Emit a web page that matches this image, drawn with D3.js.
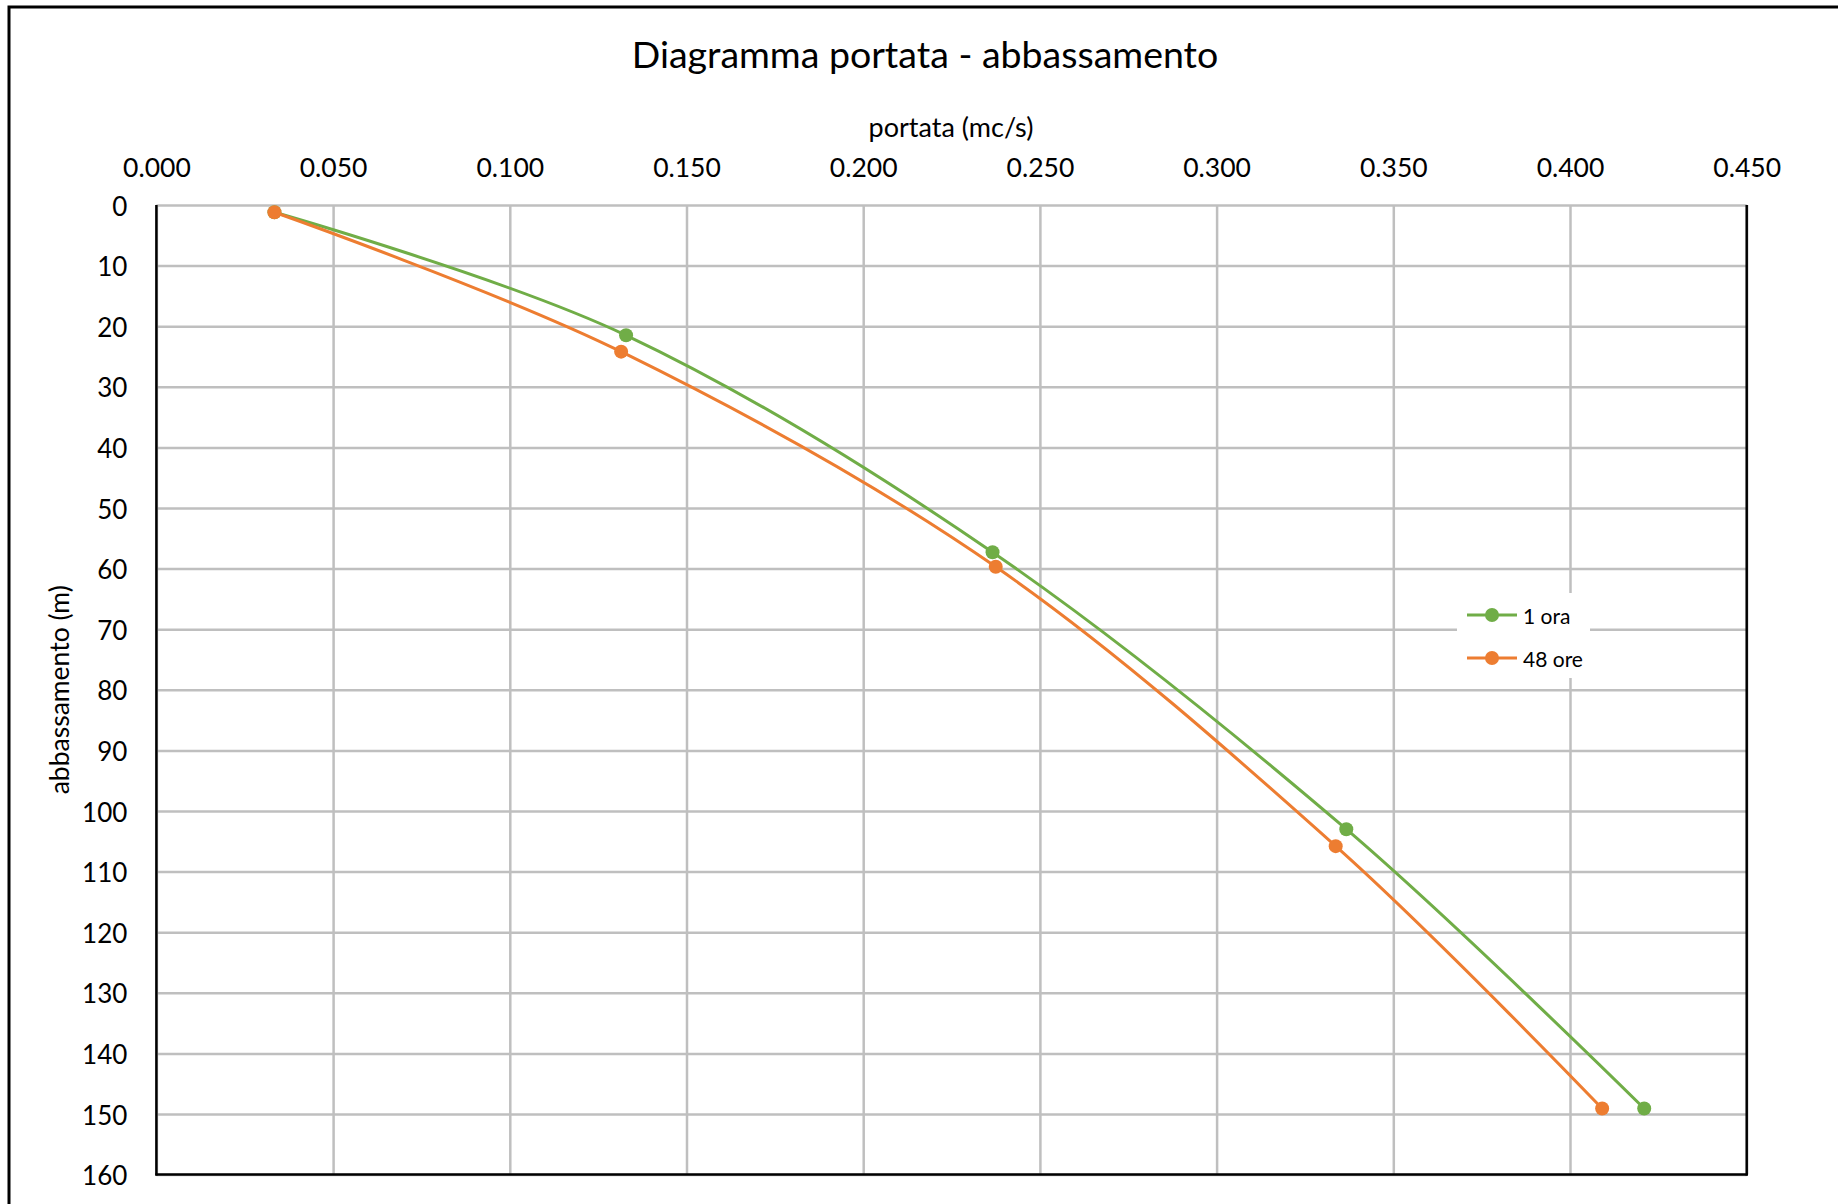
<!DOCTYPE html>
<html>
<head>
<meta charset="utf-8">
<script src="https://cdn.jsdelivr.net/npm/d3@7"></script>
<style>
  html, body { margin: 0; padding: 0; background: #ffffff; }
  svg { display: block; font-family: Lato, "Open Sans", sans-serif; }
</style>
</head>
<body>
<svg id="chart" width="1838" height="1204"></svg>
<script>
// Portata (mc/s) vs abbassamento (m) for two pumping durations
const seriesNames = ["1 ora", "48 ore"];
const seriesColors = ["#70ad47", "#ed7d31"];
const portata1h = [0.0334, 0.1329, 0.2366, 0.3367, 0.4210];
const abbassamento1h = [1.2, 21.5, 57.3, 103.0, 149.1];
const portata48h = [0.0334, 0.1315, 0.2375, 0.3337, 0.4091];
const abbassamento48h = [1.2, 24.2, 59.7, 105.8, 149.1];
const xTicks = [0, 0.05, 0.1, 0.15, 0.2, 0.25, 0.3, 0.35, 0.4, 0.45];
const yTicks = [0, 10, 20, 30, 40, 50, 60, 70, 80, 90, 100, 110, 120, 130, 140, 150, 160];

const series = [
  { name: seriesNames[0], color: seriesColors[0], pts: portata1h.map((q, i) => ({ q, s: abbassamento1h[i] })) },
  { name: seriesNames[1], color: seriesColors[1], pts: portata48h.map((q, i) => ({ q, s: abbassamento48h[i] })) }
];

const svg = d3.select("#chart");
const plot = { left: 156.4, right: 1746.7, top: 205, bottom: 1174.6 };

const x = d3.scaleLinear().domain([0, 0.45]).range([plot.left, plot.right]);
const y = d3.scaleLinear().domain([0, 160]).range([plot.top, plot.bottom]);

// outer frame of the chart area
svg.append("rect")
  .attr("x", 9).attr("y", 7)
  .attr("width", 2000).attr("height", 2000)
  .attr("fill", "#ffffff").attr("stroke", "#000000").attr("stroke-width", 3);

// title
svg.append("text")
  .attr("x", 925).attr("y", 53)
  .attr("text-anchor", "middle").attr("dominant-baseline", "central")
  .attr("font-size", 37.5).attr("fill", "#000000")
  .text("Diagramma portata - abbassamento");

// vertical gridlines + top tick labels
const xAxis = d3.axisTop(x).tickValues(xTicks).tickFormat(d3.format(".3f"))
  .tickSize(-(plot.bottom - plot.top)).tickPadding(0);
const gx = svg.append("g").attr("transform", `translate(0,${plot.top})`).call(xAxis);
gx.select(".domain").remove();
gx.selectAll(".tick line").attr("stroke", "#bfbfbf").attr("stroke-width", 2.5);
gx.selectAll(".tick text")
  .attr("y", 0).attr("dy", null)
  .attr("transform", `translate(0,${166.5 - plot.top})`)
  .attr("dominant-baseline", "central")
  .attr("font-family", "Lato, sans-serif").attr("font-size", 26.5).attr("fill", "#000000");

// horizontal gridlines + left tick labels
const yAxis = d3.axisLeft(y).tickValues(yTicks).tickFormat(d3.format("d"))
  .tickSize(-(plot.right - plot.left)).tickPadding(0);
const gy = svg.append("g").attr("transform", `translate(${plot.left},0)`).call(yAxis);
gy.select(".domain").remove();
gy.selectAll(".tick line").attr("stroke", "#bfbfbf").attr("stroke-width", 2.5);
gy.selectAll(".tick text")
  .attr("x", 127.3 - plot.left).attr("dy", null)
  .attr("dominant-baseline", "central")
  .attr("font-family", "Lato, sans-serif").attr("font-size", 26).attr("fill", "#000000");

// plot frame: left, right and bottom edges in black
const frame = svg.append("g").attr("stroke", "#000000").attr("stroke-width", 2.5);
frame.append("line").attr("x1", plot.left).attr("x2", plot.left).attr("y1", plot.top).attr("y2", plot.bottom + 1);
frame.append("line").attr("x1", plot.right).attr("x2", plot.right).attr("y1", plot.top).attr("y2", plot.bottom + 1);
frame.append("line").attr("x1", plot.left - 1).attr("x2", plot.right + 1).attr("y1", plot.bottom).attr("y2", plot.bottom);

// axis titles
svg.append("text")
  .attr("x", 951).attr("y", 126.6)
  .attr("text-anchor", "middle").attr("dominant-baseline", "central")
  .attr("font-size", 27).attr("fill", "#000000")
  .text("portata (mc/s)");

svg.append("text")
  .attr("transform", `translate(58.6,${(plot.top + plot.bottom) / 2}) rotate(-90)`)
  .attr("text-anchor", "middle").attr("dominant-baseline", "central")
  .attr("font-size", 26.5).attr("fill", "#000000")
  .text("abbassamento (m)");

// smoothed series lines with markers (later series drawn on top)
const line = d3.line()
  .x(d => x(d.q)).y(d => y(d.s))
  .curve(d3.curveCardinal.tension(0));

const gSeries = svg.append("g");
series.forEach(sr => {
  gSeries.append("path")
    .attr("d", line(sr.pts))
    .attr("fill", "none").attr("stroke", sr.color)
    .attr("stroke-width", 3).attr("stroke-linecap", "round");
  gSeries.selectAll(null).data(sr.pts).enter().append("circle")
    .attr("cx", d => x(d.q)).attr("cy", d => y(d.s))
    .attr("r", 7).attr("fill", sr.color);
});

// legend
const legend = svg.append("g");
legend.append("rect")
  .attr("x", 1457).attr("y", 593).attr("width", 133).attr("height", 85)
  .attr("fill", "#ffffff");
series.forEach((sr, i) => {
  const cy = 615 + i * 43;
  legend.append("line")
    .attr("x1", 1467).attr("x2", 1517).attr("y1", cy).attr("y2", cy)
    .attr("stroke", sr.color).attr("stroke-width", 3);
  legend.append("circle")
    .attr("cx", 1492).attr("cy", cy).attr("r", 7).attr("fill", sr.color);
  legend.append("text")
    .attr("x", 1523).attr("y", cy)
    .attr("dominant-baseline", "central")
    .attr("font-size", 21).attr("fill", "#000000")
    .text(sr.name);
});
</script>
</body>
</html>
